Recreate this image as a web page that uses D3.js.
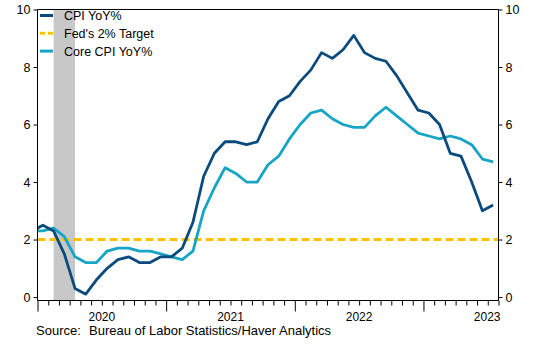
<!DOCTYPE html>
<html><head><meta charset="utf-8">
<script src="https://cdn.jsdelivr.net/npm/d3@7"></script>
<style>body{margin:0;background:#fff}svg{display:block;font-family:"Liberation Sans",Arial,sans-serif}</style>
</head><body><svg id="c" width="533" height="360"></svg>
<script>
// Months: Dec 2019 .. Jul 2023 (index -1 = Dec 2019, 0 = Jan 2020)
const months = ["2019-12",
 "2020-01","2020-02","2020-03","2020-04","2020-05","2020-06","2020-07","2020-08","2020-09","2020-10","2020-11","2020-12",
 "2021-01","2021-02","2021-03","2021-04","2021-05","2021-06","2021-07","2021-08","2021-09","2021-10","2021-11","2021-12",
 "2022-01","2022-02","2022-03","2022-04","2022-05","2022-06","2022-07","2022-08","2022-09","2022-10","2022-11","2022-12",
 "2023-01","2023-02","2023-03","2023-04","2023-05","2023-06","2023-07"];
const cpi = [2.3,
 2.5,2.3,1.5,0.3,0.1,0.6,1.0,1.3,1.4,1.2,1.2,1.4,
 1.4,1.7,2.6,4.2,5.0,5.4,5.4,5.3,5.4,6.2,6.8,7.0,
 7.5,7.9,8.5,8.3,8.6,9.1,8.5,8.3,8.2,7.7,7.1,6.5,
 6.4,6.0,5.0,4.9,4.0,3.0,3.2];
const core = [2.3,
 2.3,2.4,2.1,1.4,1.2,1.2,1.6,1.7,1.7,1.6,1.6,1.5,
 1.4,1.3,1.6,3.0,3.8,4.5,4.3,4.0,4.0,4.6,4.9,5.5,
 6.0,6.4,6.5,6.2,6.0,5.9,5.9,6.3,6.6,6.3,6.0,5.7,
 5.6,5.5,5.6,5.5,5.3,4.8,4.7];
const fedTarget = 2;
const recession = ["2020-02","2020-04"];
const yearLabels = ["2020","2021","2022","2023"];
const yTicks = [0,2,4,6,8,10];
const seriesNames = ["CPI YoY%","Fed's 2% Target","Core CPI YoY%"];
const colors = {cpi:"#0b4a7c", fed:"#ffc000", core:"#17a5c6", shade:"#c8c8c8"};

const svg = d3.select("#c");
const L = 37.5, R = 498.5, T = 9.5, B = 300.5;
const nSlots = 43; // Jan 2020 .. Jul 2023
const x = d3.scaleLinear().domain([0, nSlots]).range([L, R]);
const y = d3.scaleLinear().domain([-0.12, 10]).range([B, T]);
const startIdx = m => { const [yy, mm] = m.split("-").map(Number); return (yy - 2020) * 12 + (mm - 1); };
const cx = m => x(startIdx(m) + 0.5);

svg.append("clipPath").attr("id","clip").append("rect")
  .attr("x", L).attr("y", T).attr("width", R - L).attr("height", B - T);

const g = svg.append("g").attr("clip-path","url(#clip)");
// recession shading
g.append("rect")
  .attr("x", cx(recession[0])).attr("width", cx(recession[1]) - cx(recession[0]))
  .attr("y", T).attr("height", B - T).attr("fill", colors.shade);
// Fed target
g.append("line").attr("x1", L).attr("x2", R).attr("y1", y(fedTarget)).attr("y2", y(fedTarget))
  .attr("stroke", colors.fed).attr("stroke-width", 3).attr("stroke-dasharray","8,4");
const line = d3.line().x((d,i) => cx(months[i])).y(d => y(d));
g.append("path").datum(core).attr("d", line).attr("fill","none")
  .attr("stroke", colors.core).attr("stroke-width", 2.8).attr("stroke-linejoin","round");
g.append("path").datum(cpi).attr("d", line).attr("fill","none")
  .attr("stroke", colors.cpi).attr("stroke-width", 2.8).attr("stroke-linejoin","round");

// axes
const axL = svg.append("g").attr("transform",`translate(${L},0)`)
  .call(d3.axisLeft(y).tickValues(yTicks).tickSize(4).tickPadding(3).tickFormat(d3.format("d")));
const axR = svg.append("g").attr("transform",`translate(${R},0)`)
  .call(d3.axisRight(y).tickValues(yTicks).tickSize(4).tickPadding(3).tickFormat(d3.format("d")));
[axL, axR].forEach(a => {
  a.select(".domain").attr("d", `M0,${T}V${B}`).attr("stroke","#000");
  a.selectAll("text").attr("font-size", 12.5).attr("fill","#000").attr("font-family","Liberation Sans, Arial, sans-serif");
});
// top border
svg.append("line").attr("x1", L).attr("x2", R).attr("y1", T).attr("y2", T).attr("stroke","#000");
// bottom axis
const monthTicks = d3.range(0, nSlots + 1);
const axB = svg.append("g").attr("transform",`translate(0,${B})`)
  .call(d3.axisBottom(x).tickValues(monthTicks).tickSize(5).tickFormat(""));
axB.select(".domain").attr("d", `M${L},0H${R}`).attr("stroke","#000");
axB.selectAll(".tick line").attr("y2", d => d % 12 === 0 ? 11 : 5).attr("stroke","#000");
// year labels
const yearPos = yearLabels.map((yl, i) => {
  const s = x(i * 12), e = x(Math.min((i + 1) * 12, nSlots));
  return i === yearLabels.length - 1 ? null : (s + e) / 2;
});
svg.append("g").selectAll("text").data(yearLabels).join("text")
  .attr("x", (d,i) => yearPos[i] === null ? R + 2 : yearPos[i])
  .attr("text-anchor", (d,i) => yearPos[i] === null ? "end" : "middle")
  .attr("y", 321).attr("font-size", 12).attr("fill","#000").text(d => d);

// source
svg.append("text").attr("x", 36).attr("y", 335).attr("font-size", 13).text("Source:");
svg.append("text").attr("x", 89).attr("y", 335).attr("font-size", 13).text("Bureau of Labor Statistics/Haver Analytics");

// legend
const legCols = [colors.cpi, colors.fed, colors.core];
const lg = svg.append("g");
seriesNames.forEach((n, i) => {
  const yy = 15.5 + i * 17.8;
  lg.append("line").attr("x1", 40).attr("x2", 53).attr("y1", yy).attr("y2", yy)
    .attr("stroke", legCols[i]).attr("stroke-width", 3)
    .attr("stroke-dasharray", i === 1 ? "5,3" : null);
  lg.append("text").attr("x", 64).attr("y", yy).attr("dy", "0.36em")
    .attr("font-size", 12.5).attr("fill","#000").text(n);
});
</script></body></html>
